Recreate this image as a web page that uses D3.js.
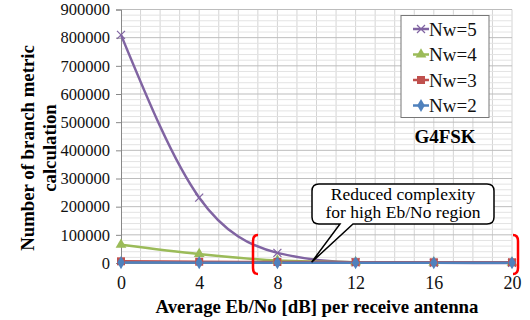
<!DOCTYPE html>
<html>
<head>
<meta charset="utf-8">
<script src="https://cdn.jsdelivr.net/npm/d3@7"></script>
<style>
  body { margin: 0; background: #fff; }
</style>
</head>
<body>
<svg width="530" height="320" style="font-family:'Liberation Serif'"></svg>
<script>
// chart values
var snr = [0, 4, 8, 12, 16, 20];
var nw5 = [810000, 232000, 36000, 2000, 500, 300];
var nw4 = [65000, 32000, 9000, 3000, 1500, 1000];
var nw3 = [6000, 4500, 3500, 3000, 2500, 2500];
var nw2 = [1500, 1200, 1000, 1000, 800, 800];
var names = ["Nw=5", "Nw=4", "Nw=3", "Nw=2"];
var xTicks = [0, 4, 8, 12, 16, 20];

var FONT = "'Liberation Serif'";

var series = [
  {name: names[0], vals: nw5, color: "#8064A2", marker: "x"},
  {name: names[1], vals: nw4, color: "#9BBB59", marker: "tri"},
  {name: names[2], vals: nw3, color: "#C0504D", marker: "sq"},
  {name: names[3], vals: nw2, color: "#4F81BD", marker: "dia"}
];

var svg = d3.select("svg");
var x = d3.scaleLinear().domain([0, 20]).range([121, 512]);
var y = d3.scaleLinear().domain([0, 900000]).range([263, 9.5]);

// grid
var g = svg.append("g");
g.selectAll(".vg").data(d3.range(1, 21)).enter().append("line")
  .attr("x1", d => x(d)).attr("x2", d => x(d))
  .attr("y1", y(900000)).attr("y2", y(0))
  .attr("stroke", "#d4d4d4").attr("stroke-width", 1);
g.selectAll(".mg").data(d3.range(20000, 900001, 20000).filter(d => d % 100000 != 0)).enter().append("line")
  .attr("x1", x(0)).attr("x2", x(20))
  .attr("y1", d => y(d)).attr("y2", d => y(d))
  .attr("stroke", "#e3e3e3").attr("stroke-width", 1);
g.selectAll(".hg").data(d3.range(100000, 900001, 100000)).enter().append("line")
  .attr("x1", x(0)).attr("x2", x(20))
  .attr("y1", d => y(d)).attr("y2", d => y(d))
  .attr("stroke", "#bdbdbd").attr("stroke-width", 1);

// axes
var yAxis = d3.axisLeft(y).tickValues(d3.range(0, 900001, 100000)).tickSize(5).tickPadding(6).tickFormat(d3.format("d"));
var ya = svg.append("g").attr("transform", "translate(" + x(0) + ",0)").call(yAxis);
ya.attr("font-family", null);
ya.select(".domain").attr("stroke", "#888");
ya.selectAll(".tick line").attr("stroke", "#888");
ya.selectAll("text").attr("font-size", 16.5).attr("fill", "#111").style("font-family", FONT);

var xAxis = d3.axisBottom(x).tickValues(xTicks).tickSize(0).tickPadding(13);
var xa = svg.append("g").attr("transform", "translate(0," + y(0) + ")").call(xAxis);
xa.attr("font-family", null);
xa.select(".domain").attr("stroke", "#888");
xa.selectAll("text").attr("font-size", 18).attr("fill", "#111").style("font-family", FONT);

// lines
var line = d3.line().x((d, i) => x(snr[i])).y(d => y(d)).curve(d3.curveMonotoneX);
series.forEach(function(s) {
  svg.append("path").datum(s.vals).attr("d", line)
    .attr("fill", "none").attr("stroke", s.color).attr("stroke-width", 2.5);
});

function drawMarker(sel, type, color, cx, cy) {
  if (type == "x") {
    sel.append("path").attr("d", "M" + (cx - 4) + "," + (cy - 4) + "L" + (cx + 4) + "," + (cy + 4) + "M" + (cx - 4) + "," + (cy + 4) + "L" + (cx + 4) + "," + (cy - 4))
      .attr("stroke", color).attr("stroke-width", 1.2);
  } else {
    var sym = type == "tri" ? d3.symbolTriangle : type == "sq" ? d3.symbolSquare : d3.symbolDiamond;
    var size = type == "tri" ? 50 : type == "sq" ? 64 : 50;
    sel.append("path").attr("d", d3.symbol().type(sym).size(size)())
      .attr("transform", "translate(" + cx + "," + cy + ")")
      .attr("fill", color);
  }
}
series.forEach(function(s) {
  var mg = svg.append("g");
  s.vals.forEach(function(v, i) { drawMarker(mg, s.marker, s.color, x(snr[i]), y(v)); });
});

// legend
var leg = svg.append("g");
leg.append("rect").attr("x", 401).attr("y", 15.5).attr("width", 88).attr("height", 102)
  .attr("fill", "#fff").attr("stroke", "#777");
series.forEach(function(s, i) {
  var ly = 29 + i * 25.5;
  leg.append("line").attr("x1", 413).attr("x2", 429).attr("y1", ly).attr("y2", ly)
    .attr("stroke", s.color).attr("stroke-width", 2.5);
  drawMarker(leg, s.marker, s.color, 421, ly);
  leg.append("text").attr("x", 429).attr("y", ly + 6.5).attr("font-size", 19).attr("fill", "#111")
    .style("font-family", FONT).text(s.name);
});
svg.append("text").attr("x", 445).attr("y", 143).attr("text-anchor", "middle")
  .attr("font-size", 19).attr("font-weight", "bold").style("font-family", FONT).text("G4FSK");

// brackets around the high Eb/No region
var bt = 235, bb = 274;
svg.append("path").attr("d", "M258," + bt + "Q253," + bt + " 253," + (bt + 6) + "L253," + (bb - 6) + "Q253," + bb + " 258," + bb)
  .attr("fill", "none").attr("stroke", "#ff0000").attr("stroke-width", 2.5);
svg.append("path").attr("d", "M513," + bt + "Q518," + bt + " 518," + (bt + 6) + "L518," + (bb - 6) + "Q518," + bb + " 513," + bb)
  .attr("fill", "none").attr("stroke", "#ff0000").attr("stroke-width", 2.5);

// callout
var bx0 = 312, bx1 = 494, by0 = 184, by1 = 224, r = 7;
var tipX = x(9.75), tipY = y(3000);
var callout = "M" + (bx0 + r) + "," + by0 + "L" + (bx1 - r) + "," + by0 +
  "Q" + bx1 + "," + by0 + " " + bx1 + "," + (by0 + r) + "L" + bx1 + "," + (by1 - r) +
  "Q" + bx1 + "," + by1 + " " + (bx1 - r) + "," + by1 + "L353," + by1 + "L" + tipX + "," + tipY +
  "L340," + by1 + "L" + (bx0 + r) + "," + by1 +
  "Q" + bx0 + "," + by1 + " " + bx0 + "," + (by1 - r) + "L" + bx0 + "," + (by0 + r) +
  "Q" + bx0 + "," + by0 + " " + (bx0 + r) + "," + by0 + "Z";
svg.append("path").attr("d", callout).attr("fill", "#fff").attr("stroke", "#000").attr("stroke-width", 1.5);
svg.append("text").attr("x", 403).attr("y", 199.5).attr("text-anchor", "middle").attr("font-size", 17.5)
  .style("font-family", FONT).text("Reduced complexity");
svg.append("text").attr("x", 403).attr("y", 218).attr("text-anchor", "middle").attr("font-size", 17.5)
  .style("font-family", FONT).text("for high Eb/No region");

// axis titles
svg.append("text").attr("x", 317).attr("y", 313).attr("text-anchor", "middle")
  .attr("font-size", 18.8).attr("font-weight", "bold").style("font-family", FONT)
  .text("Average Eb/No [dB] per receive antenna");
var yt = svg.append("text").attr("transform", "translate(34,148) rotate(-90)").attr("text-anchor", "middle")
  .attr("font-size", 18.8).attr("font-weight", "bold").style("font-family", FONT);
yt.append("tspan").attr("x", 0).attr("dy", 0).text("Number of branch metric");
yt.append("tspan").attr("x", 0).attr("dy", 22).text("calculation");
</script>
</body>
</html>
